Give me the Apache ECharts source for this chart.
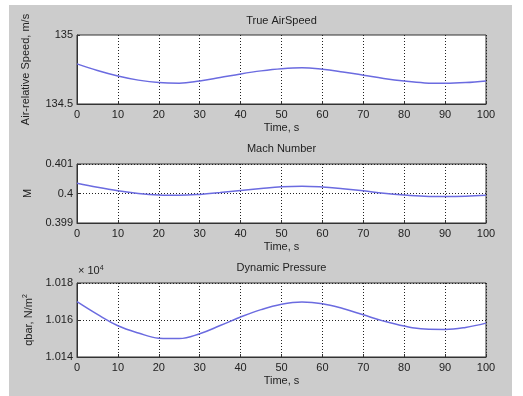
<!DOCTYPE html>
<html>
<head>
<meta charset="utf-8">
<script src="https://cdn.jsdelivr.net/npm/echarts@6/dist/echarts.min.js"></script>
<style>
html,body{margin:0;padding:0;background:#fff;}
#c{width:523px;height:396px;}
</style>
</head>
<body>
<div id="c"></div>
<script>
const time = [0,5,10,15,20,25,30,35,40,45,50,55,60,65,70,75,80,85,90,95,100];
const airspeed = [134.791,134.743,134.703,134.673,134.655,134.651,134.667,134.692,134.718,134.740,134.756,134.763,134.752,134.732,134.709,134.685,134.666,134.653,134.650,134.655,134.667];
const mach = [0.40035,0.40021,0.40009,0.40000,0.39995,0.39994,0.39997,0.40003,0.40010,0.40017,0.40023,0.40025,0.40022,0.40016,0.40009,0.40001,0.39995,0.39991,0.39990,0.39991,0.39994];
const qbar = [10169.9,10163.0,10156.9,10153.0,10150.2,10150.0,10152.6,10157.0,10161.6,10165.6,10168.5,10169.7,10168.8,10166.2,10162.8,10159.4,10156.7,10155.1,10154.9,10156.0,10158.3];
const titles = ['True AirSpeed','Mach Number','Dynamic Pressure'];
const xName = 'Time, s';

const FONT = 'Liberation Sans, Arial, sans-serif';
const TXT = '#222';
const LINE = '#6b6be0';
const grids = [
  {left:77, width:409, top:35, height:69},
  {left:77, width:409, top:164, height:59},
  {left:77, width:409, top:283, height:74}
];
function xAxis(i){
  return {
    type:'value', gridIndex:i, min:0, max:100, interval:10,
    name:xName, nameLocation:'middle', nameGap:18,
    nameTextStyle:{color:TXT, fontSize:11, fontFamily:FONT},
    axisLine:{show:true, onZero:false, lineStyle:{color:'#333'}},
    axisTick:{show:true, inside:true, length:3, lineStyle:{color:'#333'}},
    axisLabel:{color:TXT, fontSize:11, fontFamily:FONT, margin:5},
    splitLine:{show:true, lineStyle:{color:'#222', type:[1,2], width:1}}
  };
}
function yAxis(i, min, max, interval, name, gap, fmt, split){
  return {
    type:'value', gridIndex:i, min:min, max:max, interval:interval,
    name:name, nameLocation:'middle', nameGap:gap,
    nameTextStyle:{color:TXT, fontSize:11, fontFamily:FONT,
      rich:{sup:{fontSize:7, verticalAlign:'top', color:TXT, fontFamily:FONT, padding:[0,0,6,0]}}},
    axisLine:{show:true, lineStyle:{color:'#333'}},
    axisTick:{show:true, inside:true, length:3, lineStyle:{color:'#333'}},
    axisLabel:{color:TXT, fontSize:11, fontFamily:FONT, margin:4, formatter:fmt},
    splitLine:{show:split, lineStyle:{color:'#222', type:[1,2], width:1}}
  };
}
function pairs(ys){ return time.map((t,k)=>[t, ys[k]]); }
function series(i, ys){
  return {type:'line', xAxisIndex:i, yAxisIndex:i, data:pairs(ys), smooth:0.4, symbol:'none',
    lineStyle:{color:LINE, width:1.5}, silent:true};
}
const chart = echarts.init(document.getElementById('c'), null, {renderer:'canvas'});
chart.setOption({
  animation:false,
  backgroundColor:'#fff',
  grid: grids.map(g=>Object.assign({show:true, backgroundColor:'#fff', borderColor:'#333', borderWidth:1}, g)),
  xAxis:[xAxis(0), xAxis(1), xAxis(2)],
  yAxis:[
    yAxis(0, 134.5, 135, 0.5, 'Air-relative Speed, m/s', 46, v=>String(parseFloat(v.toFixed(1))), false),
    yAxis(1, 0.399, 0.401, 0.001, 'M', 44, v=>String(parseFloat(v.toFixed(3))), true),
    yAxis(2, 10140, 10180, 20, 'qbar, N/m{sup|2}', 42, v=>(v/1e4).toFixed(3), true)
  ],
  series:[series(0, airspeed), series(1, mach), series(2, qbar)],
  graphic:[
    {type:'rect', z:-10, shape:{x:9, y:5, width:503, height:391}, style:{fill:'#cccccc'}, silent:true},
    {type:'text', x:281.5, y:21, style:{text:titles[0], fill:TXT, font:'11px '+FONT, textAlign:'center', textVerticalAlign:'middle'}},
    {type:'text', x:281.5, y:149, style:{text:titles[1], fill:TXT, font:'11px '+FONT, textAlign:'center', textVerticalAlign:'middle'}},
    {type:'text', x:281.5, y:268, style:{text:titles[2], fill:TXT, font:'11px '+FONT, textAlign:'center', textVerticalAlign:'middle'}},
    {type:'text', x:78, y:271, style:{text:'× 10{s|4}', fill:TXT, font:'11px '+FONT, textAlign:'left', textVerticalAlign:'middle',
      rich:{s:{fontSize:7, fill:TXT, fontFamily:FONT, verticalAlign:'top', padding:[0,0,6,0]}}}}
  ]
});
</script>
</body>
</html>
